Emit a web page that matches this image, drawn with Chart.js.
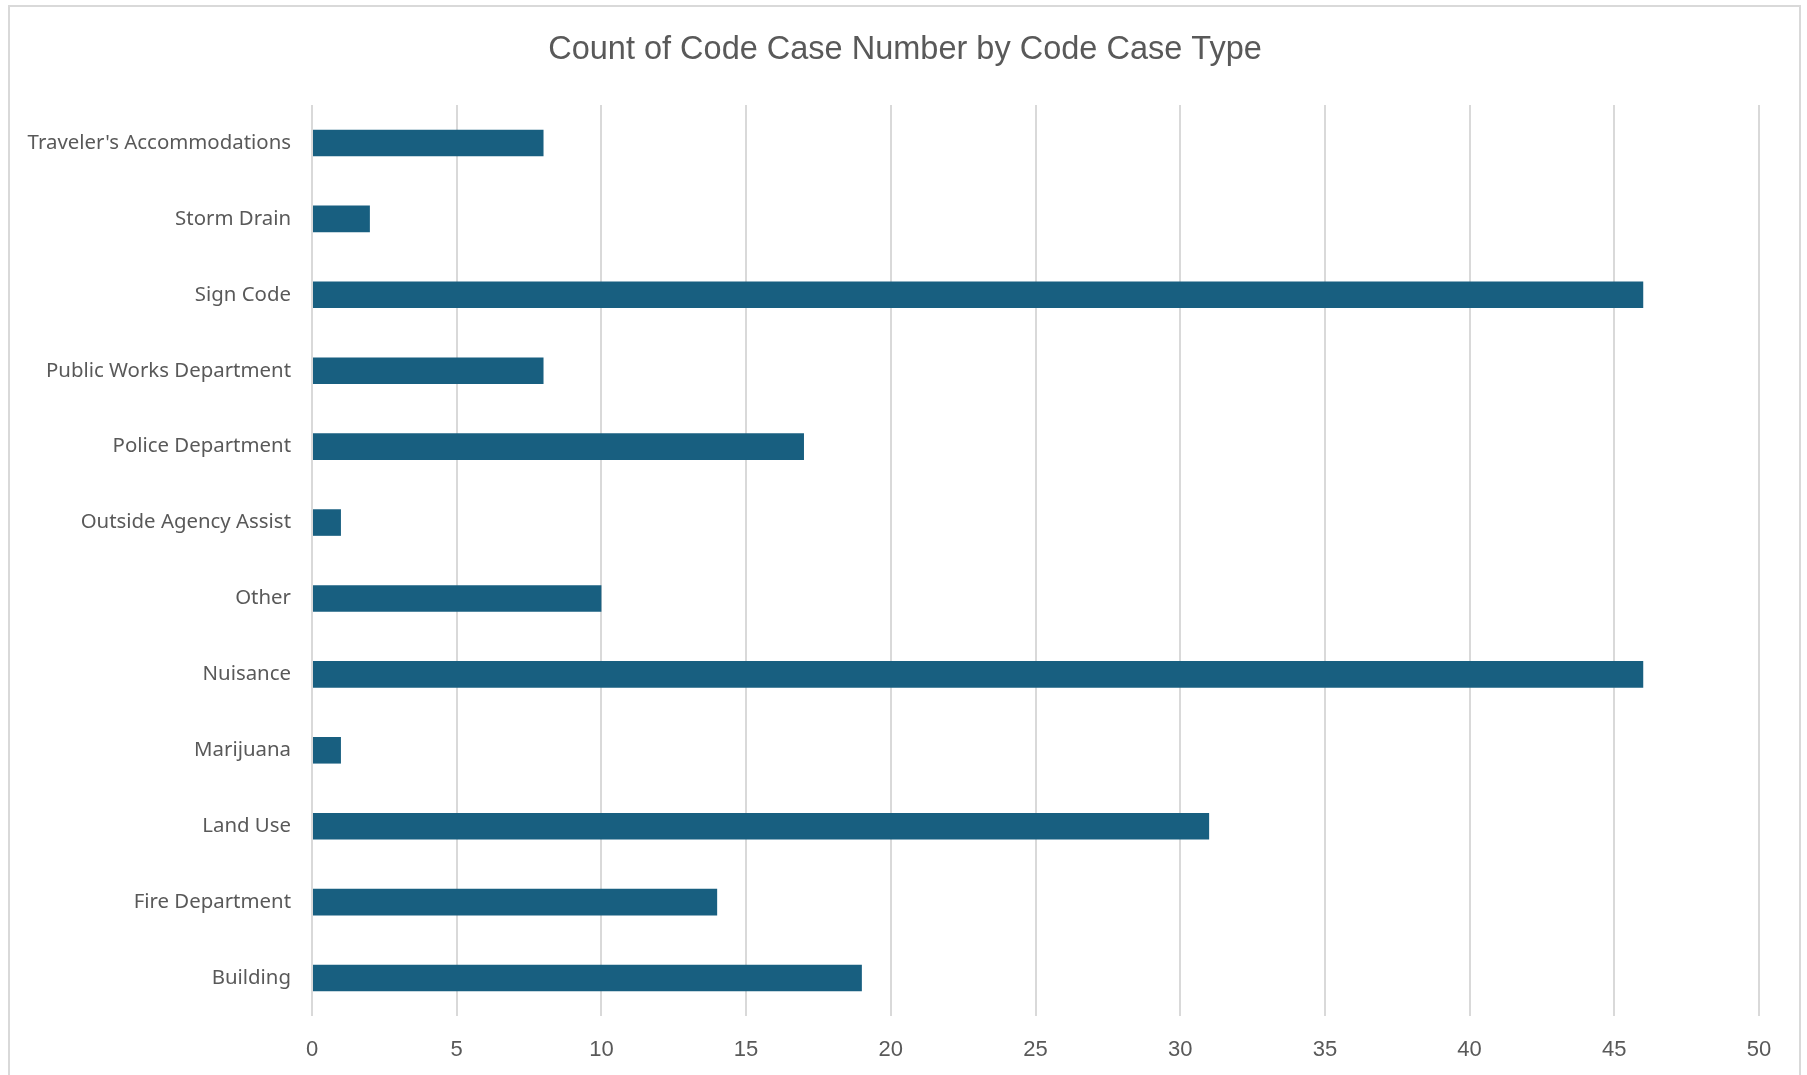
<!DOCTYPE html>
<html>
<head>
<meta charset="utf-8">
<script src="https://cdn.jsdelivr.net/npm/chart.js@4"></script>
<style>
    html, body { margin: 0; padding: 0; background: #ffffff; }
    #wrap { position: relative; width: 1807px; height: 1075px; overflow: hidden; }
    #chart { position: absolute; left: 0; top: 0; }
    #frame {
        position: absolute; left: 8px; top: 5px; width: 1789px; height: 1090px;
        border: 2px solid #d9d9d9; pointer-events: none;
    }
</style>
</head>
<body>
<div id="wrap">
    <canvas id="chart" width="1807" height="1075"></canvas>
    <div id="frame"></div>
</div>
<script>
// Count of code cases per type (top to bottom as shown)
const categories = [
    "Traveler's Accommodations",
    'Storm Drain',
    'Sign Code',
    'Public Works Department',
    'Police Department',
    'Outside Agency Assist',
    'Other',
    'Nuisance',
    'Marijuana',
    'Land Use',
    'Fire Department',
    'Building'
];
const caseCounts = [8, 2, 46, 8, 17, 1, 10, 46, 1, 31, 14, 19];
const xTicks = [0, 5, 10, 15, 20, 25, 30, 35, 40, 45, 50];

const narrowFont = "'Liberation Sans Narrow', 'Arial Narrow', 'Liberation Sans', sans-serif";
const labelFont = "'Noto Sans', Lato, sans-serif";
const textGray = '#595959';
const gridGray = '#d9d9d9';

// the title in the reference is centred a bit right of the canvas centre
const titleShift = {
    id: 'titleShift',
    afterLayout(chart) {
        if (chart.titleBlock) chart.titleBlock.left += 51;
    }
};

const ctx = document.getElementById('chart').getContext('2d');

new Chart(ctx, {
    type: 'bar',
    data: {
        labels: categories,
        datasets: [{
            label: 'Count of Code Case Number',
            data: caseCounts,
            backgroundColor: '#185f80',
            borderWidth: 0,
            categoryPercentage: 1.0,
            barPercentage: 0.35
        }]
    },
    options: {
        indexAxis: 'y',
        responsive: false,
        animation: false,
        devicePixelRatio: 1,
        layout: {
            padding: { left: 0, right: 48, top: 0, bottom: 0 }
        },
        plugins: {
            legend: { display: false },
            tooltip: { enabled: false },
            title: {
                display: true,
                text: 'Count of Code Case Number by Code Case Type',
                color: textGray,
                font: { family: narrowFont, size: 32.5, weight: 'normal', lineHeight: 1.2 },
                padding: { top: 31, bottom: 35 }
            }
        },
        scales: {
            x: {
                min: 0,
                max: 50,
                afterBuildTicks: (scale) => {
                    scale.ticks = xTicks.map(v => ({ value: v }));
                },
                afterFit: (scale) => { scale.height = 59; },
                border: { display: false },
                grid: {
                    color: gridGray,
                    lineWidth: 2,
                    drawTicks: false
                },
                ticks: {
                    color: textGray,
                    padding: 21,
                    font: { family: narrowFont, size: 22 }
                }
            },
            y: {
                afterFit: (scale) => { scale.width = 312; },
                border: { display: false },
                grid: { display: false, drawTicks: false },
                ticks: {
                    color: textGray,
                    padding: 21,
                    font: { family: labelFont, size: 20.4 }
                }
            }
        }
    },
    plugins: [titleShift]
});
</script>
</body>
</html>
